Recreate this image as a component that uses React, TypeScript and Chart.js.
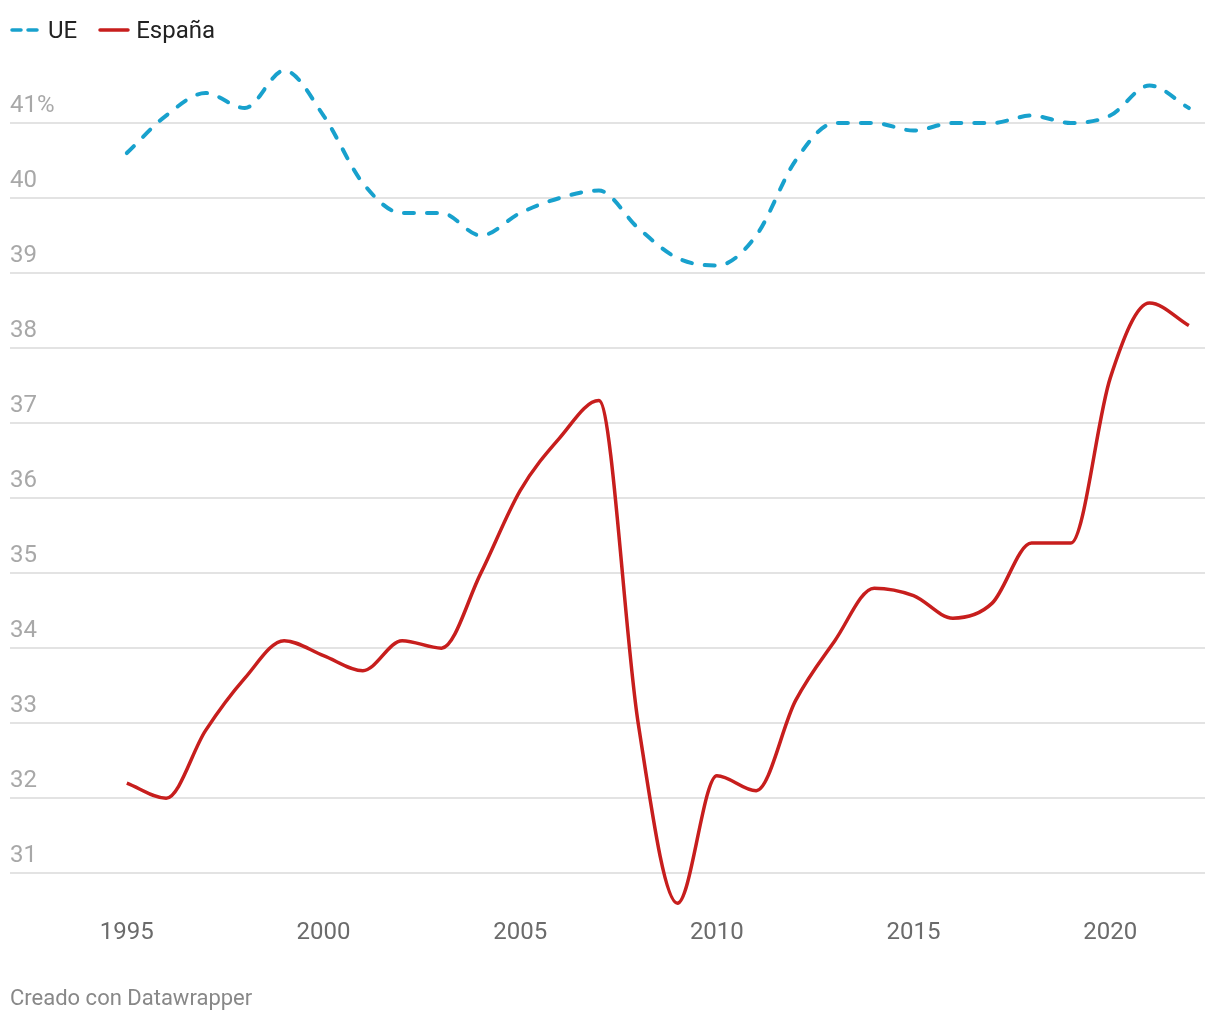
import React, { useEffect, useRef } from "react";
import { Chart, registerables } from "chart.js";

Chart.register(...registerables);

const years = [1995, 1996, 1997, 1998, 1999, 2000, 2001, 2002, 2003, 2004, 2005, 2006, 2007, 2008, 2009, 2010, 2011, 2012, 2013, 2014, 2015, 2016, 2017, 2018, 2019, 2020, 2021, 2022];
const ueValues = [40.6, 41.1, 41.4, 41.2, 41.7, 41.1, 40.2, 39.8, 39.8, 39.5, 39.8, 40.0, 40.1, 39.6, 39.2, 39.1, 39.5, 40.5, 41.0, 41.0, 40.9, 41.0, 41.0, 41.1, 41.0, 41.1, 41.5, 41.2];
const espanaValues = [32.2, 32.0, 32.9, 33.6, 34.1, 33.9, 33.7, 34.1, 34.0, 35.0, 36.1, 36.8, 37.3, 33.0, 30.6, 32.3, 32.1, 33.3, 34.1, 34.8, 34.7, 34.4, 34.6, 35.4, 35.4, 37.6, 38.6, 38.3];
const xTicks = [1995, 2000, 2005, 2010, 2015, 2020];
const yTicks = [31, 32, 33, 34, 35, 36, 37, 38, 39, 40, 41];

const UE_COLOR = "#18a1cd";
const ES_COLOR = "#c71e1d";
const FONT = "Roboto";

export default function App() {
  const ref = useRef<HTMLCanvasElement | null>(null);

  useEffect(() => {
    if (!ref.current) return;
    const chart = new Chart(ref.current, {
      type: "line",
      data: {
        datasets: [
          {
            label: "UE",
            data: years.map((y, i) => ({ x: y, y: ueValues[i] })),
            borderColor: UE_COLOR,
            borderWidth: 4,
            borderDash: [10, 13],
            borderCapStyle: "round",
            cubicInterpolationMode: "monotone",
            pointRadius: 0,
            fill: false,
          },
          {
            label: "España",
            data: years.map((y, i) => ({ x: y, y: espanaValues[i] })),
            borderColor: ES_COLOR,
            borderWidth: 3.5,
            cubicInterpolationMode: "monotone",
            pointRadius: 0,
            fill: false,
          },
        ],
      },
      options: {
        animation: false,
        responsive: false,
        maintainAspectRatio: false,
        layout: { padding: { left: 10, right: 15, top: 55, bottom: 64.5 } },
        plugins: {
          legend: { display: false },
          tooltip: { enabled: false },
        },
        scales: {
          x: {
            type: "linear",
            min: 1992.03,
            max: 2022.41,
            afterBuildTicks: (scale: any) => {
              scale.ticks = xTicks.map((v) => ({ value: v }));
            },
            grid: { display: false, drawTicks: false },
            border: { display: false },
            ticks: {
              padding: 8,
              color: "#6b6b6b",
              font: { family: FONT, size: 24 },
              callback: (v: any) => String(v),
            },
          },
          y: {
            type: "linear",
            min: 30.5,
            max: 41.907,
            afterBuildTicks: (scale: any) => {
              scale.ticks = yTicks.map((v) => ({ value: v }));
            },
            grid: { color: "#e3e3e3", lineWidth: 2, drawTicks: false },
            border: { display: false },
            ticks: {
              mirror: true,
              padding: 0,
              labelOffset: -17,
              color: "#a8a8a8",
              font: { family: FONT, size: 24 },
              callback: (v: any) => (v === 41 ? "41%" : String(v)),
            },
          },
        },
      },
    });
    return () => chart.destroy();
  }, []);

  return (
    <div style={{ position: "absolute", left: 0, top: 0, width: 1220, height: 1020, background: "#fff", fontFamily: FONT }}>
      <canvas ref={ref} width={1220} height={1020} style={{ position: "absolute", left: 0, top: 0, width: 1220, height: 1020 }} />
      <div style={{ position: "absolute", left: 10, top: 15, height: 30, display: "flex", alignItems: "center", fontSize: 24, color: "#222" }}>
        <svg width={32} height={10} style={{ marginRight: 6 }}>
          <line x1={2} y1={5} x2={30} y2={5} stroke={UE_COLOR} strokeWidth={3.5} strokeDasharray="9 7" strokeLinecap="round" />
        </svg>
        <span style={{ marginRight: 21 }}>UE</span>
        <svg width={32} height={10} style={{ marginRight: 6 }}>
          <line x1={2} y1={5} x2={30} y2={5} stroke={ES_COLOR} strokeWidth={3.5} strokeLinecap="round" />
        </svg>
        <span>España</span>
      </div>
      <div style={{ position: "absolute", left: 10, top: 985, fontSize: 22, color: "#888" }}>Creado con Datawrapper</div>
    </div>
  );
}
